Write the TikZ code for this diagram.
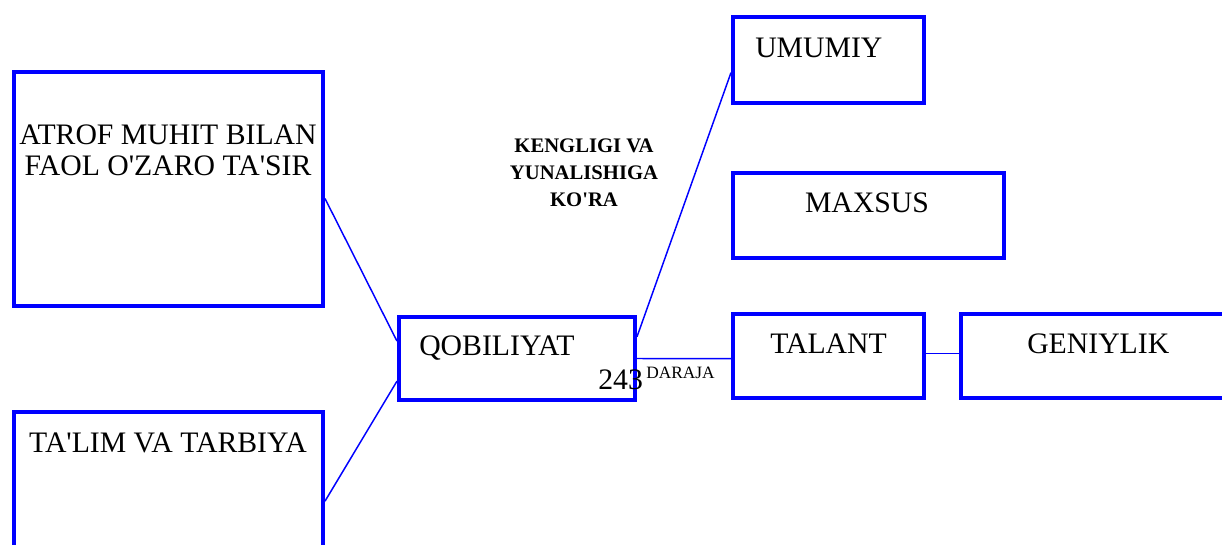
\documentclass[tikz,border=0pt]{standalone}
\usepackage{fontspec}
\setmainfont{Liberation Serif}
\usetikzlibrary{fit,calc}
\definecolor{boxblue}{RGB}{0,0,255}
\newcommand{\apos}{\textquotesingle}
\tikzset{
  box/.style={draw=boxblue, line width=3pt, inner sep=0pt},
  link/.style={draw=boxblue, line width=1.1pt},
  lbl/.style={inner sep=0pt, font=\fontsize{22.3}{23.25}\selectfont},
  note/.style={inner sep=0pt, align=center, font=\bfseries\fontsize{15.5}{20}\selectfont}
}
\begin{document}
\begin{tikzpicture}[x=0.75pt, y=-0.75pt]
            \useasboundingbox (0,0) rectangle (1222,544);
            \clip (0,0) rectangle (1222,544);
            % left boxes
            \node[box, fit={(14,72) (323,306)}] (atrof) {};
            \node[lbl, align=center, anchor=base] (atroftxt) at (168,175) {ATROF MUHIT BILAN\\FAOL O\apos ZARO TA\apos SIR};
            \node[box, fit={(14,412) (323,620)}] (talim) {};
            \node[lbl, anchor=base] (talimtxt) at (168,452) {TA\apos LIM VA TARBIYA};

            % centre box
            \node[box, fit={(399,317) (635,400)}] (qobil) {};
            \node[lbl, anchor=base west] (qobiltxt) at (419,355) {QOBILIYAT};
            \node[lbl, anchor=base west] (num) at (598,389) {243};
            \node[inner sep=0pt, anchor=base west, font=\fontsize{13}{13}\selectfont] (daraja) at (646,378) {DARAJA};

            % heading over the right boxes
            \node[note, anchor=base] (kenglik) at (584,206) {KENGLIGI VA\\YUNALISHIGA\\KO\apos RA};

            % right boxes
            \node[box, fit={(733,17) (924,103)}] (umumiy) {};
            \node[lbl, anchor=base west] (umumiytxt) at (755,57) {UMUMIY};
            \node[box, fit={(733,173) (1004,258)}] (maxsus) {};
            \node[lbl, anchor=base] (maxsustxt) at (867,212) {MAXSUS};
            \node[box, fit={(733,314) (924,398)}] (talant) {};
            \node[lbl, anchor=base west] (talanttxt) at (770,353) {TALANT};
            \node[box, fit={(961,314) (1260,398)}] (geniy) {};
            \node[lbl, anchor=base west] (geniytxt) at (1027,353) {GENIYLIK};

            % connectors
            \draw[link] ($(atrof.north east)!0.54!(atrof.south east)$) -- ($(qobil.north west)!0.30!(qobil.south west)$);
            \draw[link] ($(talim.north east)!0.43!(talim.south east)$) -- ($(qobil.north west)!0.76!(qobil.south west)$);
            \draw[link] ($(qobil.north east)!0.25!(qobil.south east)$) -- ($(umumiy.north west)!0.64!(umumiy.south west)$);
            \draw[link] ($(qobil.north east)!0.5!(qobil.south east)$) -- ($(talant.north west)!0.53!(talant.south west)$);
            \draw[link] ($(talant.north east)!0.47!(talant.south east)$) -- ($(geniy.north west)!0.47!(geniy.south west)$);
        \end{tikzpicture}
\end{document}
